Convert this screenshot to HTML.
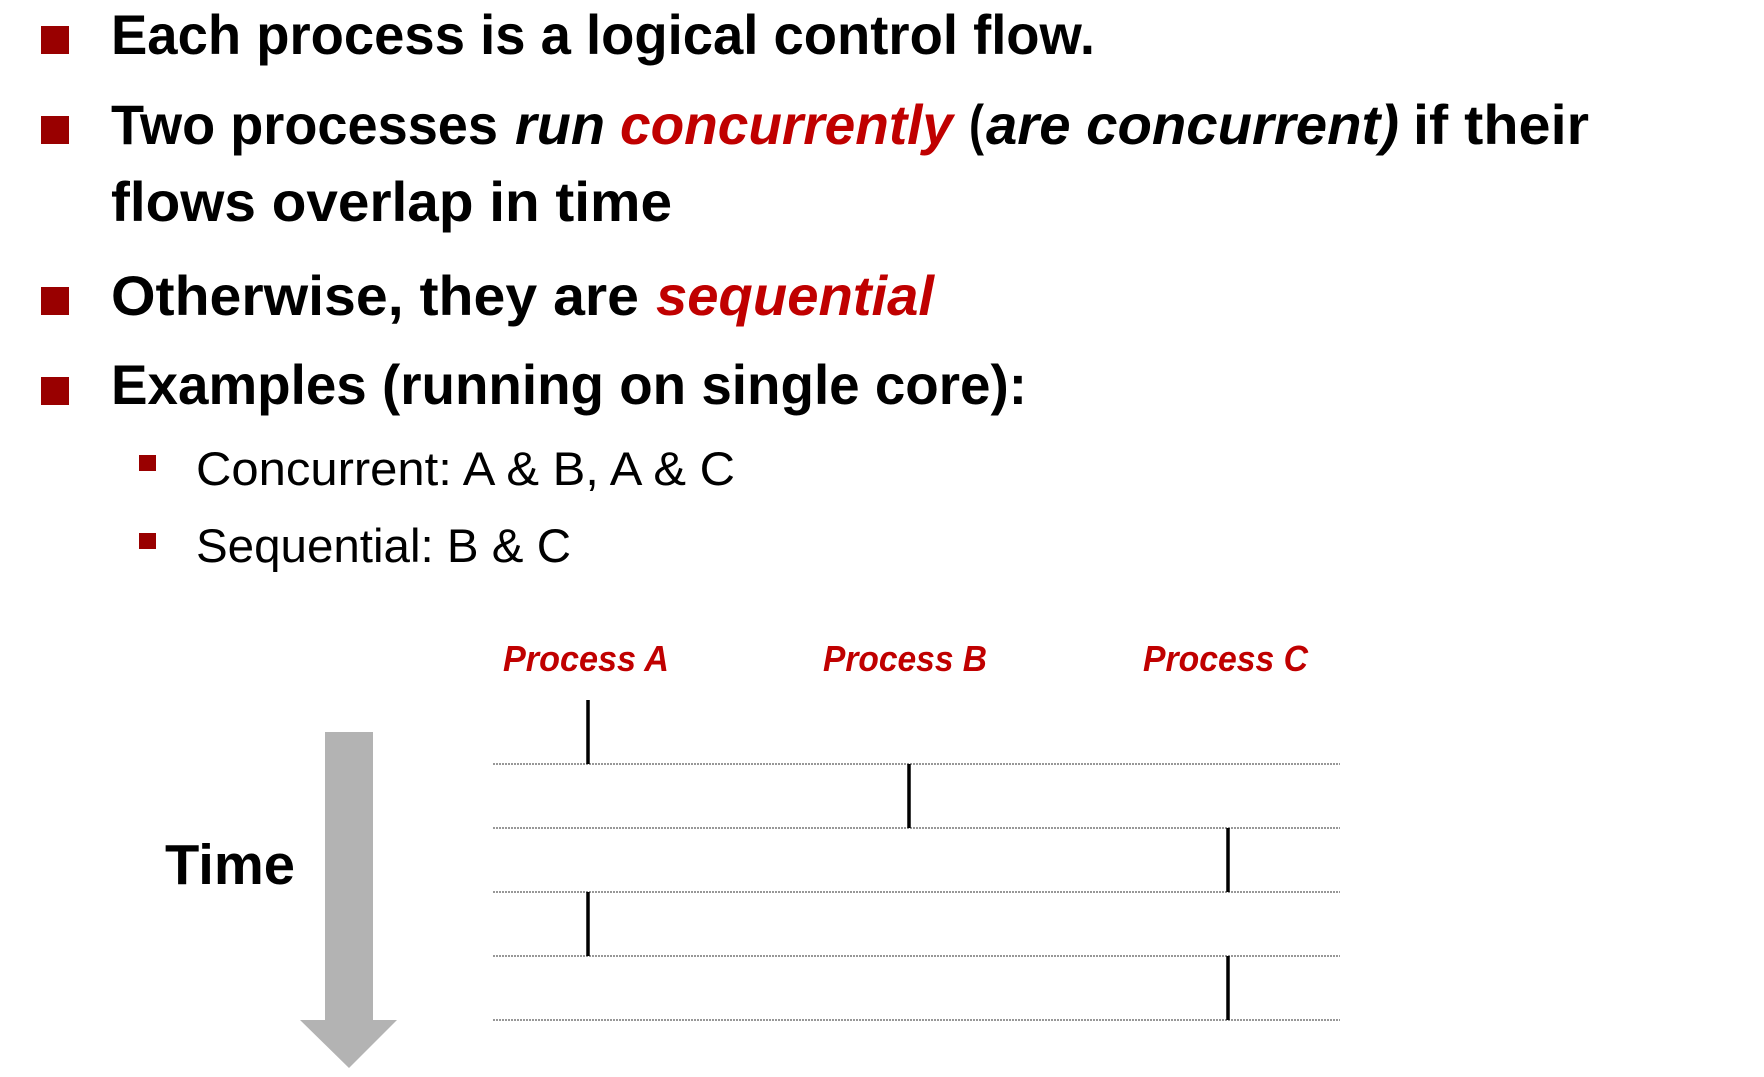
<!DOCTYPE html>
<html><head><meta charset="utf-8"><style>
html,body{margin:0;padding:0;background:#fff;width:1764px;height:1077px;overflow:hidden}
svg{display:block}
text{font-family:"Liberation Sans",sans-serif}
.b{font-weight:bold;font-size:56px;fill:#000}
.r{fill:#c00000}
.i{font-style:italic}
.s{font-size:47px;fill:#000}
</style></head><body>
<svg width="1764" height="1077" viewBox="0 0 1764 1077" xmlns="http://www.w3.org/2000/svg">
<g fill="#990000">
<rect x="41" y="26" width="28" height="28"/>
<rect x="41" y="116" width="28" height="28"/>
<rect x="41" y="287" width="28" height="28"/>
<rect x="41" y="377" width="28" height="28"/>
<rect x="139" y="455" width="17" height="16"/>
<rect x="139" y="533" width="17" height="16"/>
</g>
<text class="b" x="111" y="54" textLength="984" lengthAdjust="spacingAndGlyphs">Each process is a logical control flow.</text>
<text class="b" x="111" y="144" textLength="387" lengthAdjust="spacingAndGlyphs">Two processes</text>
<text class="b i" x="515" y="144" textLength="90" lengthAdjust="spacingAndGlyphs">run</text>
<text class="b i r" x="620" y="144" textLength="333" lengthAdjust="spacingAndGlyphs">concurrently</text>
<text class="b" x="969" y="144" textLength="15" lengthAdjust="spacingAndGlyphs">(</text>
<text class="b i" x="986" y="144" textLength="413" lengthAdjust="spacingAndGlyphs">are concurrent)</text>
<text class="b" x="1413" y="144" textLength="176" lengthAdjust="spacingAndGlyphs">if their</text>
<text class="b" x="111" y="221" textLength="561" lengthAdjust="spacingAndGlyphs">flows overlap in time</text>
<text class="b" x="111" y="315" textLength="528" lengthAdjust="spacingAndGlyphs">Otherwise, they are</text>
<text class="b i r" x="656" y="315" textLength="278" lengthAdjust="spacingAndGlyphs">sequential</text>
<text class="b" x="111" y="404" textLength="916" lengthAdjust="spacingAndGlyphs">Examples (running on single core):</text>
<text class="s" x="196" y="485" textLength="539" lengthAdjust="spacingAndGlyphs">Concurrent: A &amp; B, A &amp; C</text>
<text class="s" x="196" y="562" textLength="375" lengthAdjust="spacingAndGlyphs">Sequential: B &amp; C</text>

<g font-weight="bold" font-style="italic" font-size="36" fill="#c00000">
<text x="503" y="671" textLength="166" lengthAdjust="spacingAndGlyphs">Process A</text>
<text x="823" y="671" textLength="164" lengthAdjust="spacingAndGlyphs">Process B</text>
<text x="1143" y="671" textLength="165" lengthAdjust="spacingAndGlyphs">Process C</text>
</g>

<polygon points="325,732 373,732 373,1020 397,1020 349,1068 300,1020 325,1020" fill="#b3b3b3"/>
<text x="165" y="884" font-weight="bold" font-size="57" textLength="130" lengthAdjust="spacingAndGlyphs">Time</text>

<g stroke="#777" stroke-width="1.5" stroke-dasharray="2,1">
<line x1="493" y1="764" x2="1340" y2="764"/>
<line x1="493" y1="828" x2="1340" y2="828"/>
<line x1="493" y1="892" x2="1340" y2="892"/>
<line x1="493" y1="956" x2="1340" y2="956"/>
<line x1="493" y1="1020" x2="1340" y2="1020"/>
</g>
<g stroke="#000" stroke-width="3.5">
<line x1="588" y1="700" x2="588" y2="764"/>
<line x1="909" y1="764" x2="909" y2="828"/>
<line x1="1228" y1="828" x2="1228" y2="892"/>
<line x1="588" y1="892" x2="588" y2="956"/>
<line x1="1228" y1="956" x2="1228" y2="1020"/>
</g>
</svg>
</body></html>
